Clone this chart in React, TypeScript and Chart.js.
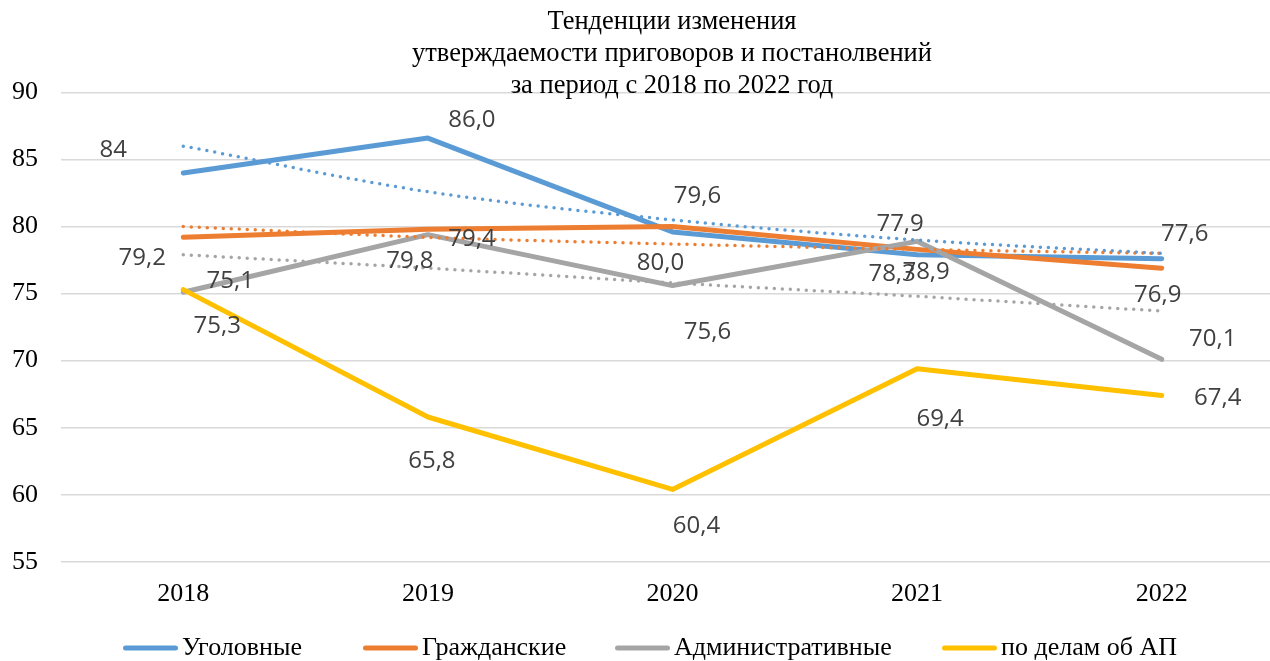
import React, { useEffect, useRef } from "react";
import { Chart, registerables } from "chart.js";

Chart.register(...registerables);

// ---- Text ----
const TITLE_LINES = [
  "Тенденции изменения",
  "утверждаемости приговоров и постанолвений",
  "за период с 2018 по 2022 год",
];
const YEARS = ["2018", "2019", "2020", "2021", "2022"];
const SERIES_NAMES = ["Уголовные", "Гражданские", "Административные", "по делам об АП"];
const TREND_NAMES = [
  "Логарифмическая (Уголовные)",
  "Логарифмическая (Гражданские)",
  "Линейная (Административные)",
];

// ---- Values ----
const CRIMINAL = [84.0, 86.6, 79.6, 77.9, 77.6];
const CIVIL = [79.2, 79.8, 80.0, 78.3, 76.9];
const ADMIN = [75.1, 79.4, 75.6, 78.9, 70.1];
const AP_CASES = [75.3, 65.8, 60.4, 69.4, 67.4];

// data label texts as printed on the chart
const CRIMINAL_LABELS = ["84", "86,0", "79,6", "77,9", "77,6"];
const CIVIL_LABELS = ["79,2", "79,8", "80,0", "78,3", "76,9"];
const ADMIN_LABELS = ["75,1", "79,4", "75,6", "78,9", "70,1"];
const AP_LABELS = ["75,3", "65,8", "60,4", "69,4", "67,4"];

// trend lines
const CRIMINAL_TREND = [86.0, 82.6, 80.5, 79.0, 78.0];
const CIVIL_TREND = [80.0, 79.2, 78.7, 78.3, 78.0];
const ADMIN_TREND = [77.9, 76.9, 75.8, 74.8, 73.7];

// ---- Styling / layout (not data) ----
const COLORS = ["#5B9BD5", "#ED7D31", "#A5A5A5", "#FFC000"];
const SERIF = "'Liberation Serif', 'Times New Roman', serif";
const SANS = "'Open Sans', 'Noto Sans', sans-serif";
// label centre offsets relative to each point (pixels)
const LABEL_OFFSETS = [
  [[-70, -25], [44, -20], [25, -38], [-17, -32], [23, -26]],
  [[-41, 19], [-18, 30], [-12, 35], [-25, 23], [-4, 25]],
  [[47, -13], [44, 3], [35, 45], [9, 29], [51, -22]],
  [[34, 35], [4, 42], [24, 35], [23, 49], [56, 1]],
];
const LEGEND_X = [123, 363, 615, 942];

const ALL_LABELS = [CRIMINAL_LABELS, CIVIL_LABELS, ADMIN_LABELS, AP_LABELS];

const overlayPlugin = {
  id: "overlay",
  afterDatasetsDraw(chart: any) {
    const ctx = chart.ctx;
    ctx.save();
    ctx.font = `24px ${SANS}`;
    ctx.fillStyle = "#404040";
    ctx.textAlign = "center";
    ctx.textBaseline = "alphabetic";
    ALL_LABELS.forEach((labels, di) => {
      const meta = chart.getDatasetMeta(di);
      meta.data.forEach((pt: any, i: number) => {
        const [dx, dy] = LABEL_OFFSETS[di][i];
        ctx.fillText(labels[i], pt.x + dx, pt.y + dy + 8.6);
      });
    });
    ctx.restore();
  },
  afterDraw(chart: any) {
    const ctx = chart.ctx;
    ctx.save();
    // title
    ctx.font = `26.5px ${SERIF}`;
    ctx.fillStyle = "#000";
    ctx.textAlign = "center";
    ctx.textBaseline = "alphabetic";
    TITLE_LINES.forEach((t, i) => ctx.fillText(t, 672, 29 + i * 32));
    // legend
    ctx.font = `26px ${SERIF}`;
    ctx.textAlign = "left";
    SERIES_NAMES.forEach((name, i) => {
      const x = LEGEND_X[i];
      ctx.strokeStyle = COLORS[i];
      ctx.lineWidth = 5;
      ctx.lineCap = "round";
      ctx.beginPath();
      ctx.moveTo(x + 2.5, 648);
      ctx.lineTo(x + 52.5, 648);
      ctx.stroke();
      ctx.fillStyle = "#000";
      ctx.fillText(name, x + 59, 655);
    });
    ctx.restore();
  },
};

export default function App() {
  const canvasRef = useRef<HTMLCanvasElement | null>(null);

  useEffect(() => {
    if (!canvasRef.current) return;
    const mainSeries = [CRIMINAL, CIVIL, ADMIN, AP_CASES];
    const trends = [CRIMINAL_TREND, CIVIL_TREND, ADMIN_TREND];
    const datasets: any[] = mainSeries.map((d, i) => ({
      label: SERIES_NAMES[i],
      data: d,
      borderColor: COLORS[i],
      backgroundColor: COLORS[i],
      borderWidth: 5,
      pointRadius: 0,
      pointHoverRadius: 0,
      borderJoinStyle: "round",
      borderCapStyle: "round",
      tension: 0,
      order: 4 - i,
    }));
    trends.forEach((d, i) => {
      datasets.push({
        label: TREND_NAMES[i],
        data: d,
        borderColor: COLORS[i],
        backgroundColor: COLORS[i],
        borderWidth: 3.5,
        borderDash: [0, 8],
        borderCapStyle: "round",
        pointRadius: 0,
        pointHoverRadius: 0,
        cubicInterpolationMode: "monotone",
        order: 0,
      });
    });

    const chart = new Chart(canvasRef.current, {
      type: "line",
      data: { labels: YEARS, datasets },
      options: {
        responsive: false,
        animation: false,
        devicePixelRatio: 1,
        layout: { padding: { top: 92.5, left: 12, right: 16, bottom: 53 } },
        plugins: {
          legend: { display: false },
          title: { display: false },
          tooltip: { enabled: false },
        },
        scales: {
          x: {
            type: "category",
            offset: true,
            grid: { display: false, drawTicks: false },
            border: { display: false },
            ticks: {
              color: "#000",
              font: { family: SERIF, size: 26 },
              padding: 17,
              maxRotation: 0,
              autoSkip: false,
            },
          },
          y: {
            min: 55,
            max: 90,
            grid: { color: "#D9D9D9", lineWidth: 1.5, drawTicks: false },
            border: { display: false },
            afterFit: (scale: any) => {
              scale.width = 49;
            },
            ticks: {
              stepSize: 5,
              color: "#000",
              font: { family: SERIF, size: 26 },
              padding: 23,
            },
          },
        },
      },
      plugins: [overlayPlugin],
    });
    return () => chart.destroy();
  }, []);

  return (
    <div
      style={{
        position: "fixed",
        left: 0,
        top: 0,
        width: 1270,
        height: 661,
        overflow: "hidden",
        background: "#fff",
      }}
    >
      <canvas ref={canvasRef} width={1300} height={680} style={{ display: "block" }} />
    </div>
  );
}
